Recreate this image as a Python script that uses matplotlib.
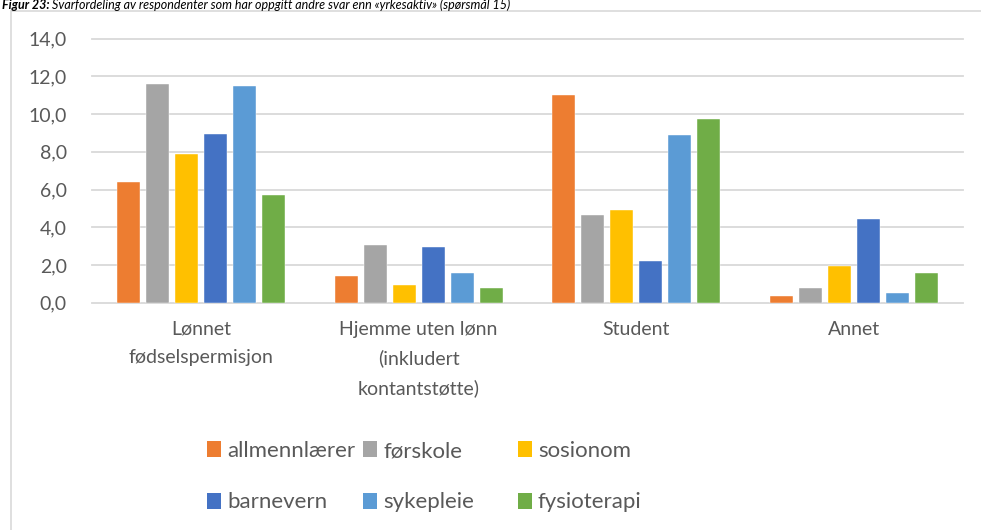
import matplotlib
matplotlib.use("Agg")
import matplotlib.pyplot as plt
import numpy as np
from matplotlib.patches import Rectangle

categories = ["Lønnet\nfødselspermisjon", "Hjemme uten lønn\n(inkludert\nkontantstøtte)", "Student", "Annet"]
series_names = ["allmennlærer", "førskole", "sosionom", "barnevern", "sykepleie", "fysioterapi"]
allmennlaerer = [6.4, 1.4, 11.0, 0.35]
forskole = [11.6, 3.05, 4.65, 0.8]
sosionom = [7.9, 0.95, 4.9, 1.95]
barnevern = [8.95, 2.95, 2.2, 4.45]
sykepleie = [11.5, 1.55, 8.9, 0.5]
fysioterapi = [5.7, 0.8, 9.75, 1.6]
yticks = [0, 2, 4, 6, 8, 10, 12, 14]
title = "Figur 23: "
title_rest = "Svarfordeling av respondenter som har oppgitt andre svar enn «yrkesaktiv» (spørsmål 15)"

series = [allmennlaerer, forskole, sosionom, barnevern, sykepleie, fysioterapi]
colors = ["#ED7D31", "#A5A5A5", "#FFC000", "#4472C4", "#5B9BD5", "#70AD47"]
text_color = "#595959"
font = "Lato"

W, H = 981, 530
fig = plt.figure(figsize=(W / 100, H / 100), dpi=100)

# outer chart frame
fig.patches.append(Rectangle((10.5 / W, -0.1), 1.2, (H - 10.5) / H + 0.1, transform=fig.transFigure,
                             fill=False, edgecolor="#D9D9D9", linewidth=1.2))

# title
t1 = fig.text(2 / W, 1 - 9 / H, title, fontsize=9, fontweight="bold", fontstyle="italic",
              family=font, color="#000000", va="baseline", ha="left")
fig.canvas.draw()
bb = t1.get_window_extent()
fig.text(bb.x1 / W, 1 - 9 / H, title_rest, fontsize=9, fontstyle="italic",
         family=font, color="#000000", va="baseline", ha="left")

ax = fig.add_axes([92 / W, (H - 302.7) / H, 871 / W, 264 / H])
x = np.arange(len(categories))
pitch = 0.1332
width = 0.1056
n = len(series)
for i, (vals, c, name) in enumerate(zip(series, colors, series_names)):
    ax.bar(x + (i - (n - 1) / 2) * pitch, vals, width=width, color=c, label=name, zorder=3,
           edgecolor="white", linewidth=0.3)

ax.set_xlim(-0.5, len(categories) - 0.5)
ax.set_ylim(0, 14)
ax.set_yticks(yticks)
ax.set_yticklabels([f"{v:.1f}".replace(".", ",") for v in yticks], family=font, fontsize=14, color=text_color)
ax.set_xticks(x)
ax.set_xticklabels(categories, family=font, fontsize=14, color=text_color, linespacing=1.8)
ax.tick_params(axis="both", length=0)
ax.tick_params(axis="y", pad=18)
ax.tick_params(axis="x", pad=13)
ax.yaxis.grid(True, color="#D9D9D9", linewidth=1.3, zorder=0)
ax.set_axisbelow(True)
for s in ax.spines.values():
    s.set_visible(False)
for gl in ax.get_ygridlines():
    gl.set_clip_on(False)

# legend: 3 columns x 2 rows, placed like the reference
marker_x = [207, 363, 518]
row_y = [449, 500.5]
for k, (name, c) in enumerate(zip(series_names, colors)):
    col = k % 3
    row = k // 3
    mx = marker_x[col]
    my = row_y[row]
    fig.patches.append(Rectangle((mx / W, 1 - (my + 8) / H), 13.5 / W, 16 / H,
                                 transform=fig.transFigure, facecolor=c, edgecolor="none"))
    fig.text((mx + 20) / W, 1 - my / H, name, family=font, fontsize=16, color=text_color,
             va="center_baseline", ha="left")

fig.savefig("out.png", dpi=100)
